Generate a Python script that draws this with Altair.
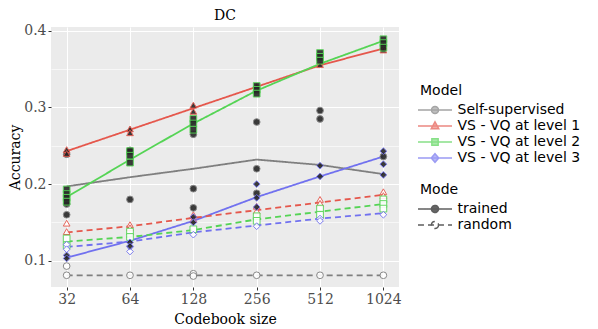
import altair as alt
import pandas as pd

sizes = [32, 64, 128, 256, 512, 1024]
models = ["Self-supervised", "VS - VQ at level 1", "VS - VQ at level 2", "VS - VQ at level 3"]
modes = ["trained", "random"]
colors = ["#7f7f7f", "#e5574c", "#55d455", "#7171ef"]

# mean accuracy lines
ss_trained = [0.197, 0.209, 0.220, 0.232, 0.225, 0.213]
l1_trained = [0.243, 0.271, 0.299, 0.327, 0.355, 0.377]
l2_trained = [0.183, 0.232, 0.279, 0.322, 0.357, 0.387]
l3_trained = [0.104, 0.126, 0.152, 0.183, 0.210, 0.236]
ss_random = [0.081, 0.081, 0.081, 0.081, 0.081, 0.081]
l1_random = [0.137, 0.145, 0.156, 0.166, 0.176, 0.186]
l2_random = [0.125, 0.131, 0.140, 0.154, 0.164, 0.174]
l3_random = [0.118, 0.125, 0.137, 0.146, 0.155, 0.162]

# individual runs per codebook size
ss_trained_runs = {32: [0.239, 0.174, 0.160], 64: [0.180, 0.244], 128: [0.265, 0.194, 0.169],
                   256: [0.281, 0.220, 0.188], 512: [0.296, 0.285], 1024: [0.236]}
l1_trained_runs = {32: [0.245, 0.240], 64: [0.272, 0.267], 128: [0.303, 0.295],
                   256: [0.328], 512: [0.356], 1024: [0.380, 0.375]}
l2_trained_runs = {32: [0.193, 0.187, 0.182, 0.177], 64: [0.243, 0.237, 0.228], 128: [0.285, 0.279, 0.271],
                   256: [0.328, 0.323, 0.318], 512: [0.371, 0.366, 0.361], 1024: [0.389, 0.384, 0.378]}
l3_trained_runs = {32: [0.107, 0.103], 64: [0.124, 0.119], 128: [0.157, 0.150],
                   256: [0.200, 0.182, 0.170], 512: [0.224, 0.210], 1024: [0.243, 0.226, 0.212]}
ss_random_runs = {32: [0.093, 0.081], 64: [0.081], 128: [0.083, 0.080], 256: [0.081], 512: [0.081], 1024: [0.081]}
l1_random_runs = {32: [0.149, 0.138], 64: [0.147, 0.143], 128: [0.160, 0.154], 256: [0.171, 0.165],
                  512: [0.180, 0.175], 1024: [0.190, 0.185]}
l2_random_runs = {32: [0.129, 0.120], 64: [0.138, 0.131], 128: [0.141], 256: [0.158, 0.152],
                  512: [0.168, 0.160], 1024: [0.180, 0.174, 0.168]}
l3_random_runs = {32: [0.121, 0.115], 64: [0.118, 0.112], 128: [0.134], 256: [0.145],
                  512: [0.155, 0.152], 1024: [0.160]}

mean_sets = [
    (models[0], "trained", ss_trained), (models[1], "trained", l1_trained),
    (models[2], "trained", l2_trained), (models[3], "trained", l3_trained),
    (models[0], "random", ss_random), (models[1], "random", l1_random),
    (models[2], "random", l2_random), (models[3], "random", l3_random),
]
run_sets = [
    (models[0], "random", ss_random_runs), (models[1], "random", l1_random_runs),
    (models[2], "random", l2_random_runs), (models[3], "random", l3_random_runs),
    (models[0], "trained", ss_trained_runs), (models[1], "trained", l1_trained_runs),
    (models[2], "trained", l2_trained_runs), (models[3], "trained", l3_trained_runs),
]

means = pd.DataFrame([
    {"Model": m, "Mode": md, "size": s, "acc": v}
    for m, md, vals in mean_sets for s, v in zip(sizes, vals)
])
runs = pd.DataFrame([
    {"Model": m, "Mode": md, "size": s, "acc": v}
    for m, md, d in run_sets for s, vs in d.items() for v in vs
])

# legend key glyphs: a line segment with the marker in its middle
LINE = "M-2.27,0H2.27"
CIRC = "M0.47,0A0.47,0.47,0,1,1,-0.47,0A0.47,0.47,0,1,1,0.47,0Z"
TRI = "M0,-0.55L0.5,0.35L-0.5,0.35Z"
SQ = "M-0.42,-0.42H0.42V0.42H-0.42Z"
DIA = "M0,-0.58L0.5,0L0,0.58L-0.5,0Z"

legend_common = dict(
    orient="none", padding=0, titleFont="DejaVu Sans", titleFontSize=14, titleFontWeight="normal",
    titleColor="black", labelFont="DejaVu Sans", labelFontSize=14, labelColor="black",
    symbolSize=225, symbolStrokeWidth=1.5, symbolOffset=6.5, labelOffset=14, rowPadding=0,
    titlePadding=3.5,
)
model_legend = alt.Legend(title="Model", legendX=369, legendY=57, **legend_common)
mode_legend = alt.Legend(title="Mode", legendX=369, legendY=156, symbolType=LINE + CIRC,
                         **legend_common)

minor = "abs(datum.value*10 - round(datum.value*10)) > 0.01"

x_enc = alt.X("size:Q", title="Codebook size",
              scale=alt.Scale(type="log", base=2, domain=[26.96, 1215], nice=False),
              axis=alt.Axis(values=sizes, format="d", grid=True, titlePadding=6))
y_enc = alt.Y("acc:Q", title="Accuracy",
              scale=alt.Scale(domain=[0.0657, 0.405], nice=False, zero=False),
              axis=alt.Axis(values=[0.1, 0.15, 0.2, 0.25, 0.3, 0.35, 0.4], format=".1f",
                            labelExpr="abs(datum.value*10 - round(datum.value*10)) > 0.01 ? '' : datum.label",
                            gridWidth={"condition": {"test": minor, "value": 0.6}, "value": 1.2},
                            tickOpacity={"condition": {"test": minor, "value": 0}, "value": 1},
                            titlePadding=1))

model_scale = alt.Scale(domain=models, range=colors)
stroke_enc = alt.Stroke("Model:N", scale=model_scale, legend=model_legend)
mode_color = alt.Color("Mode:N", scale=alt.Scale(domain=modes, range=["#262626", "white"]),
                       legend=mode_legend)
mode_dash = alt.StrokeDash("Mode:N", scale=alt.Scale(domain=modes, range=[[1, 0], [6, 4]]),
                           legend=mode_legend)

# legend-only layers (no rows drawn)
key_model = alt.Chart(means).transform_filter("false").mark_point(filled=True).encode(
    x=x_enc, y=y_enc, stroke=stroke_enc,
    fill=alt.Fill("Model:N", scale=model_scale, legend=model_legend),
    shape=alt.Shape("Model:N", scale=alt.Scale(domain=models,
                    range=[LINE + CIRC, LINE + TRI, LINE + SQ, LINE + DIA]), legend=model_legend),
)
key_mode = alt.Chart(means).transform_filter("false").mark_point(filled=True).encode(
    x=x_enc, y=y_enc, color=mode_color, strokeDash=mode_dash,
    stroke=alt.value("#1a1a1a"),
)

lines = alt.Chart(means).mark_line(strokeWidth=1.8).encode(
    x=x_enc, y=y_enc, stroke=stroke_enc, strokeDash=mode_dash, detail="Mode:N",
)

points = alt.Chart(runs).transform_calculate(
    shp="datum.Model == 'Self-supervised' ? 'circle' : datum.Model == 'VS - VQ at level 1' ? "
        "'triangle-up' : datum.Model == 'VS - VQ at level 2' ? 'square' : 'diamond'"
).mark_point(filled=True, size=45, strokeWidth=1, opacity=0.9).encode(
    x=x_enc, y=y_enc, stroke=stroke_enc, color=mode_color,
    shape=alt.Shape("shp:N", scale=None),
)

chart = alt.layer(key_model, key_mode, lines, points).properties(
    width=348, height=260,
    title=alt.Title("DC", font="DejaVu Serif", fontSize=14, fontWeight="normal", color="black",
                    anchor="middle", frame="group", offset=6, dy=5),
    autosize=alt.AutoSizeParams(type="none"),
    padding={"left": 43, "top": 19, "right": 191, "bottom": 40},
).configure_view(
    fill="#ebebeb", stroke=None
).configure_axis(
    domain=False, gridColor="white", tickColor="#333333", tickSize=3, labelPadding=2,
    labelFont="DejaVu Serif", labelFontSize=14, labelColor="#4d4d4d",
    titleFont="DejaVu Serif", titleFontSize=14, titleFontWeight="normal", titleColor="black",
)

chart.save("out.html", embed_options={"renderer": "svg", "actions": False})
